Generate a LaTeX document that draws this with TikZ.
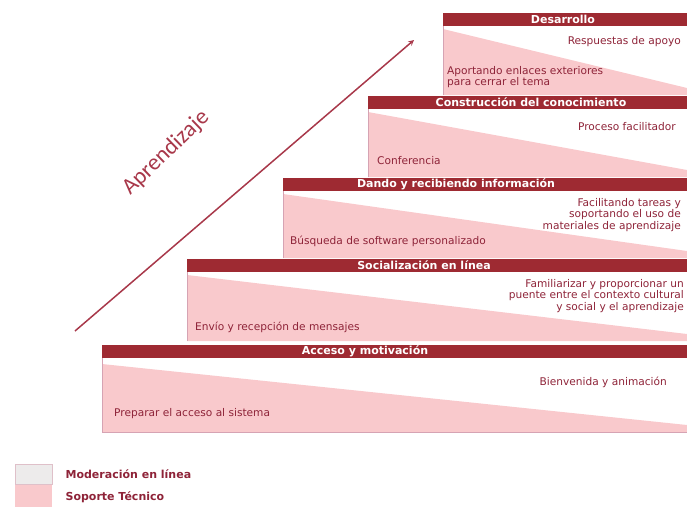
\documentclass[tikz,border=0pt]{standalone}
\usepackage{fontspec}
\setmainfont{DejaVu Sans}
\newfontfamily\titulofont{Carlito}
\usetikzlibrary{positioning}
\definecolor{granate}{HTML}{9E2A32}
\definecolor{flecha}{HTML}{A8384A}
\definecolor{rosa}{HTML}{F9C9CC}
\definecolor{borde}{HTML}{D6A3B3}
\definecolor{texto}{HTML}{8E2338}
\definecolor{gris}{HTML}{EDEBEB}

\tikzset{
  barra/.style={fill=granate,anchor=north west,inner sep=0pt,minimum height=13pt},
  titulo/.style={text=white,font=\fontsize{11}{12}\selectfont\bfseries,inner sep=0pt},
  nota/.style={text=texto,font=\fontsize{10.6}{11.2}\selectfont,inner sep=0pt},
  leyenda/.style={text=texto,font=\fontsize{11}{12}\selectfont\bfseries,inner sep=0pt}
}

\begin{document}
\begin{tikzpicture}[x=1pt,y=-1pt]
        \useasboundingbox (0,0) rectangle (687,506);
        % cuerpos de los escalones
        \fill[rosa] (443,29) -- (687,88) -- (687,95) -- (443,95) -- cycle;
        \fill[rosa] (368,112) -- (687,170) -- (687,177) -- (368,177) -- cycle;
        \fill[rosa] (283,194) -- (687,251) -- (687,258) -- (283,258) -- cycle;
        \fill[rosa] (187,275) -- (687,334) -- (687,341) -- (187,341) -- cycle;
        \fill[rosa] (102,364) -- (687,425) -- (687,432) -- (102,432) -- cycle;
        \draw[borde] (443,26) -- (443,95);
        \draw[borde] (368,109) -- (368,177);
        \draw[borde] (283,191) -- (283,258);
        \draw[borde] (187,272) -- (187,341);
        \draw[borde] (102,357) -- (102,432) -- (687,432);
        % barras
        \node(B5)[barra,minimum width=244pt] at (443,13) {};
        \node(B4)[barra,minimum width=319pt] at (368,96) {};
        \node(B3)[barra,minimum width=404pt] at (283,178) {};
        \node(B2)[barra,minimum width=500pt] at (187,259) {};
        \node(B1)[barra,minimum width=585pt] at (102,345) {};
        \node(T5)[titulo] at (563,19.5) {Desarrollo};
        \node(T4)[titulo] at (531,102.5) {Construcción del conocimiento};
        \node(T3)[titulo] at (456,184.5) {Dando y recibiendo información};
        \node(T2)[titulo] at (424,265.5) {Socialización en línea};
        \node(T1)[titulo] at (365,351.5) {Acceso y motivación};
        % textos
        \node(R5)[nota,anchor=east] at (681,42) {Respuestas de apoyo};
        \node(L5)[nota,anchor=west,align=left] at (447,77) {Aportando enlaces exteriores\\para cerrar el tema};
        \node(R4)[nota,anchor=east] at (676,127) {Proceso facilitador};
        \node(L4)[nota,anchor=west] at (377,161) {Conferencia};
        \node(R3)[nota,anchor=east,align=right] at (681,215) {Facilitando tareas y\\soportando el uso de\\materiales de aprendizaje};
        \node(L3)[nota,anchor=west] at (290,241) {Búsqueda de software personalizado};
        \node(R2)[nota,anchor=east,align=right] at (684,296) {Familiarizar y proporcionar un\\puente entre el contexto cultural\\y social y el aprendizaje};
        \node(L2)[nota,anchor=west] at (195,327) {Envío y recepción de mensajes};
        \node(R1)[nota,anchor=east] at (667,382) {Bienvenida y animación};
        \node(L1)[nota,anchor=west] at (114,414) {Preparar el acceso al sistema};
        % flecha
        \coordinate(inicio) at (75,331);
        \coordinate(fin) at (414,40);
        \draw[flecha,line width=1.5pt,-stealth] (inicio) -- (fin);
        \node(A)[text=flecha,rotate=44,inner sep=0pt,font=\titulofont\fontsize{23}{24}\selectfont] at (166,153) {Aprendizaje};
        % leyenda
        \node(G1)[draw=borde!60!gris,fill=gris,anchor=north west,minimum width=37pt,minimum height=20pt,inner sep=0pt] at (15,464) {};
        \node(G2)[below=0pt of G1,fill=rosa,minimum width=37pt,minimum height=22pt,inner sep=0pt] {};
        \node[leyenda,right=13pt of G1] {Moderación en línea};
        \node[leyenda,right=13pt of G2.north east,anchor=west,yshift=-13pt] {Soporte Técnico};
    \end{tikzpicture}
\end{document}
